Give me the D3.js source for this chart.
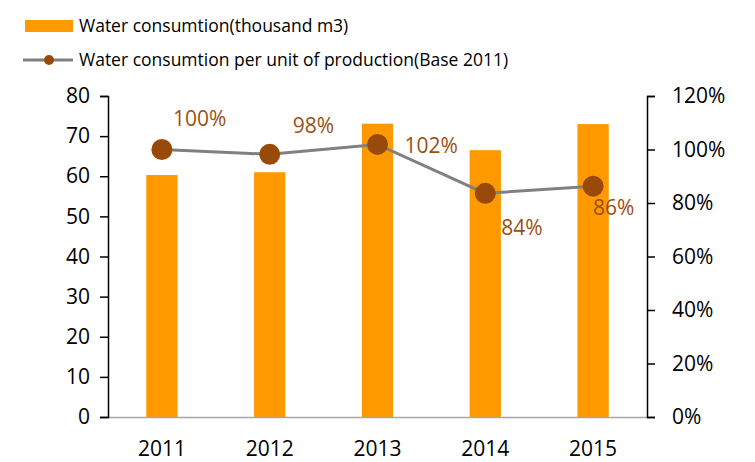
<!DOCTYPE html>
<html>
<head>
<meta charset="utf-8">
<script src="https://cdn.jsdelivr.net/npm/d3@7"></script>
<style>
    body { margin: 0; background: #fff; }
    text { font-family: "Open Sans", "Noto Sans", sans-serif; }
</style>
</head>
<body>
<svg id="chart"></svg>
<script>
const years = ["2011", "2012", "2013", "2014", "2015"];
const consumption = [60.3, 61.0, 73.1, 66.5, 73.0];
const perUnit = [1.00, 0.982, 1.019, 0.836, 0.863];
const perUnitLabels = ["100%", "98%", "102%", "84%", "86%"];
const leftTicks = [0, 10, 20, 30, 40, 50, 60, 70, 80];
const rightTicks = [0, 0.2, 0.4, 0.6, 0.8, 1.0, 1.2];

// where excel put each data label, relative to its point
const labelOffsets = [[11, -24], [23, -21], [27, 9], [16, 42], [0, 29]];

const width = 755,
    height = 462,
    margin = { top: 96, right: 108, bottom: 45, left: 108 };

const barColor = "#ff9900",
    lineColor = "#808080",
    dotColor = "#994a0a",
    labelColor = "#9c4f14";

const svg = d3
    .select("#chart")
    .attr("width", width)
    .attr("height", height);

const x = d3
    .scaleBand()
    .domain(years)
    .range([margin.left, width - margin.right])
    .paddingInner(0.71)
    .paddingOuter(0.355);

const y = d3
    .scaleLinear()
    .domain([0, 80])
    .range([height - margin.bottom, margin.top]);

const y2 = d3
    .scaleLinear()
    .domain([0, 1.2])
    .range([height - margin.bottom, margin.top]);

// bars
svg.append("g")
    .selectAll("rect")
    .data(consumption)
    .enter()
    .append("rect")
    .attr("x", (d, i) => x(years[i]))
    .attr("y", d => y(d))
    .attr("width", x.bandwidth())
    .attr("height", d => y(0) - y(d))
    .attr("fill", barColor);

// gray baseline
svg.append("line")
    .attr("x1", margin.left)
    .attr("x2", width - margin.right)
    .attr("y1", y(0) + 0.5)
    .attr("y2", y(0) + 0.5)
    .attr("stroke", "#a6a6a6")
    .attr("stroke-width", 1.5);

// left axis
const leftAxis = svg
    .append("g")
    .attr("transform", `translate(${margin.left},0)`)
    .call(
        d3.axisLeft(y).tickValues(leftTicks).tickSize(8).tickSizeOuter(8).tickPadding(10)
    );

// right axis
const rightAxis = svg
    .append("g")
    .attr("transform", `translate(${width - margin.right},0)`)
    .call(
        d3
            .axisRight(y2)
            .tickValues(rightTicks)
            .tickFormat(d3.format(".0%"))
            .tickSize(8)
            .tickSizeOuter(8)
            .tickPadding(17)
    );

[leftAxis, rightAxis].forEach(a => {
    a.select(".domain").attr("stroke", "#000").attr("stroke-width", 1.5);
    a.selectAll(".tick line").attr("stroke", "#000").attr("stroke-width", 1.5);
    a.selectAll("text").attr("font-size", 21).attr("fill", "#000");
});

// x labels
svg.append("g")
    .selectAll("text")
    .data(years)
    .enter()
    .append("text")
    .attr("x", d => x(d) + x.bandwidth() / 2)
    .attr("y", 456)
    .attr("text-anchor", "middle")
    .attr("font-size", 21)
    .text(d => d);

// line
const line = d3
    .line()
    .x((d, i) => x(years[i]) + x.bandwidth() / 2)
    .y(d => y2(d));

svg.append("path")
    .datum(perUnit)
    .attr("d", line)
    .attr("fill", "none")
    .attr("stroke", lineColor)
    .attr("stroke-width", 3);

svg.append("g")
    .selectAll("circle")
    .data(perUnit)
    .enter()
    .append("circle")
    .attr("cx", (d, i) => x(years[i]) + x.bandwidth() / 2)
    .attr("cy", d => y2(d))
    .attr("r", 10.5)
    .attr("fill", dotColor);

svg.append("g")
    .selectAll("text")
    .data(perUnit)
    .enter()
    .append("text")
    .attr("x", (d, i) => x(years[i]) + x.bandwidth() / 2 + labelOffsets[i][0])
    .attr("y", (d, i) => y2(d) + labelOffsets[i][1])
    .attr("font-size", 21)
    .attr("fill", labelColor)
    .text((d, i) => perUnitLabels[i]);

// legend
const legend = svg.append("g");
legend.append("rect")
    .attr("x", 25)
    .attr("y", 20)
    .attr("width", 48)
    .attr("height", 12)
    .attr("fill", barColor);
legend.append("text")
    .attr("x", 79)
    .attr("y", 32)
    .attr("font-size", 17.5)
    .text("Water consumtion(thousand m3)");
legend.append("line")
    .attr("x1", 23)
    .attr("x2", 73)
    .attr("y1", 60)
    .attr("y2", 60)
    .attr("stroke", lineColor)
    .attr("stroke-width", 3);
legend.append("circle")
    .attr("cx", 49)
    .attr("cy", 60)
    .attr("r", 5)
    .attr("fill", dotColor);
legend.append("text")
    .attr("x", 79)
    .attr("y", 66)
    .attr("font-size", 17.5)
    .text("Water consumtion per unit of production(Base 2011)");
</script>
</body>
</html>
